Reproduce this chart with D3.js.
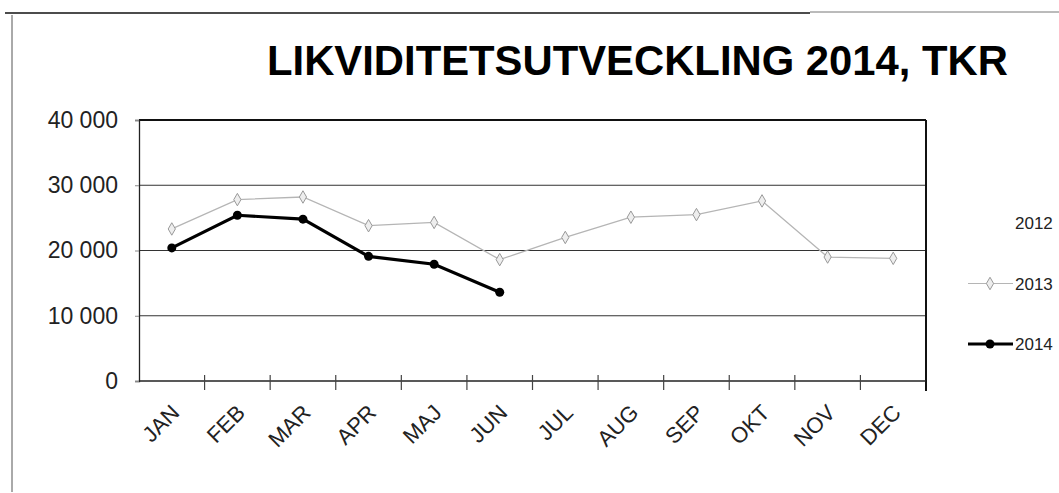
<!DOCTYPE html>
<html>
<head>
<meta charset="utf-8">
<script src="https://cdn.jsdelivr.net/npm/d3@7"></script>
<style>
  body { margin: 0; background: #fff; }
  text { font-family: 'Liberation Sans', Arial, sans-serif; }
</style>
</head>
<body>
<svg id="chart" width="1059" height="493"></svg>
<script>
const months = ['JAN', 'FEB', 'MAR', 'APR', 'MAJ', 'JUN', 'JUL', 'AUG', 'SEP', 'OKT', 'NOV', 'DEC']
const values2012 = []
const values2013 = [23300, 27800, 28200, 23800, 24300, 18600, 22000, 25100, 25500, 27600, 19000, 18800]
const values2014 = [20400, 25400, 24800, 19100, 17900, 13600]
const yTicks = [0, 10000, 20000, 30000, 40000]
const legendYears = ['2012', '2013', '2014']

const svg = d3.select('#chart')
const plotLeft = 139, plotRight = 926, plotTop = 120, plotBottom = 381

const xs = d3.scaleBand().domain(months).range([plotLeft, plotRight])
const ys = d3.scaleLinear().domain([0, 40000]).range([plotBottom, plotTop])
const fmt = (v) => d3.format(',')(v).replace(/,/g, ' ')

// page frame
svg.append('line').attr('x1', 5).attr('x2', 810).attr('y1', 13).attr('y2', 13)
  .attr('stroke', '#111').attr('stroke-width', 1.5)
svg.append('line').attr('x1', 810).attr('x2', 1059).attr('y1', 12).attr('y2', 12)
  .attr('stroke', '#777').attr('stroke-width', 1)
svg.append('line').attr('x1', 12).attr('x2', 12).attr('y1', 15).attr('y2', 492)
  .attr('stroke', '#555').attr('stroke-width', 1)

// title
svg.append('text')
  .attr('x', 267).attr('y', 75)
  .attr('font-size', 42).attr('font-weight', 'bold')
  .attr('textLength', 741).attr('lengthAdjust', 'spacingAndGlyphs')
  .text('LIKVIDITETSUTVECKLING 2014, TKR')

// grid
svg.append('g').selectAll('line')
  .data(yTicks.filter((d) => d > 0))
  .join('line')
  .attr('x1', plotLeft).attr('x2', plotRight)
  .attr('y1', (d) => ys(d)).attr('y2', (d) => ys(d))
  .attr('stroke', (d) => d === 40000 ? '#111' : '#333')
  .attr('stroke-width', (d) => d === 40000 ? 1.8 : 1)

// y axis
const yAxis = svg.append('g')
  .attr('transform', `translate(${plotLeft},0)`)
  .call(d3.axisLeft(ys).tickValues(yTicks).tickFormat(fmt).tickSize(4).tickPadding(17))
yAxis.select('.domain').attr('stroke', '#222').attr('stroke-width', 1.3)
yAxis.selectAll('.tick line').attr('stroke', '#888')
yAxis.selectAll('text').attr('font-size', 23).attr('fill', '#222')
  .attr('font-family', "'Liberation Sans', Arial, sans-serif")

// right border
svg.append('line').attr('x1', plotRight).attr('x2', plotRight).attr('y1', plotTop).attr('y2', plotBottom + 10)
  .attr('stroke', '#111').attr('stroke-width', 2)

// x axis, ticks between categories
const xAxisG = svg.append('g').attr('transform', `translate(0,${plotBottom})`)
xAxisG.append('line').attr('x1', plotLeft).attr('x2', plotRight).attr('stroke', '#222').attr('stroke-width', 1.5)
xAxisG.selectAll('line.tk')
  .data(months.slice(1))
  .join('line')
  .attr('class', 'tk')
  .attr('x1', (d) => xs(d)).attr('x2', (d) => xs(d))
  .attr('y1', -6).attr('y2', 9)
  .attr('stroke', '#444').attr('stroke-width', 1.2)
xAxisG.selectAll('text')
  .data(months)
  .join('text')
  .attr('transform', (d) => `translate(${xs(d) + xs.bandwidth() / 2 + 9},${33}) rotate(-45)`)
  .attr('text-anchor', 'end')
  .attr('font-size', 22)
  .attr('fill', '#222')
  .text((d) => d)

const cx = (i) => xs(months[i]) + xs.bandwidth() / 2
const line = d3.line().x((d, i) => cx(i)).y((d) => ys(d))

// 2013
svg.append('path').datum(values2013).attr('d', line)
  .attr('fill', 'none').attr('stroke', '#b5b5b5').attr('stroke-width', 1.3)
const diamond = d3.symbol().type(d3.symbolDiamond).size(45)
svg.append('g').selectAll('path')
  .data(values2013)
  .join('path')
  .attr('transform', (d, i) => `translate(${cx(i)},${ys(d)})`)
  .attr('d', diamond)
  .attr('fill', '#eee').attr('stroke', '#999').attr('stroke-width', 1)

// 2014
svg.append('path').datum(values2014).attr('d', line)
  .attr('fill', 'none').attr('stroke', '#000').attr('stroke-width', 3.2)
svg.append('g').selectAll('circle')
  .data(values2014)
  .join('circle')
  .attr('cx', (d, i) => cx(i)).attr('cy', (d) => ys(d)).attr('r', 4.5)
  .attr('fill', '#000')

// legend
const legend = svg.append('g')
const ly = d3.scalePoint().domain(legendYears).range([223, 344])
legend.selectAll('text')
  .data(legendYears)
  .join('text')
  .attr('x', 1015).attr('y', (d) => ly(d) + 6)
  .attr('font-size', 17).attr('fill', '#222')
  .text((d) => d)
legend.append('line').attr('x1', 968).attr('x2', 1013)
  .attr('y1', ly('2013')).attr('y2', ly('2013'))
  .attr('stroke', '#b5b5b5').attr('stroke-width', 1.2)
legend.append('path').attr('d', diamond)
  .attr('transform', `translate(990,${ly('2013')})`)
  .attr('fill', '#eee').attr('stroke', '#999')
legend.append('line').attr('x1', 968).attr('x2', 1013)
  .attr('y1', ly('2014')).attr('y2', ly('2014'))
  .attr('stroke', '#000').attr('stroke-width', 3.2)
legend.append('circle').attr('cx', 990).attr('cy', ly('2014')).attr('r', 4.5).attr('fill', '#000')
</script>
</body>
</html>
